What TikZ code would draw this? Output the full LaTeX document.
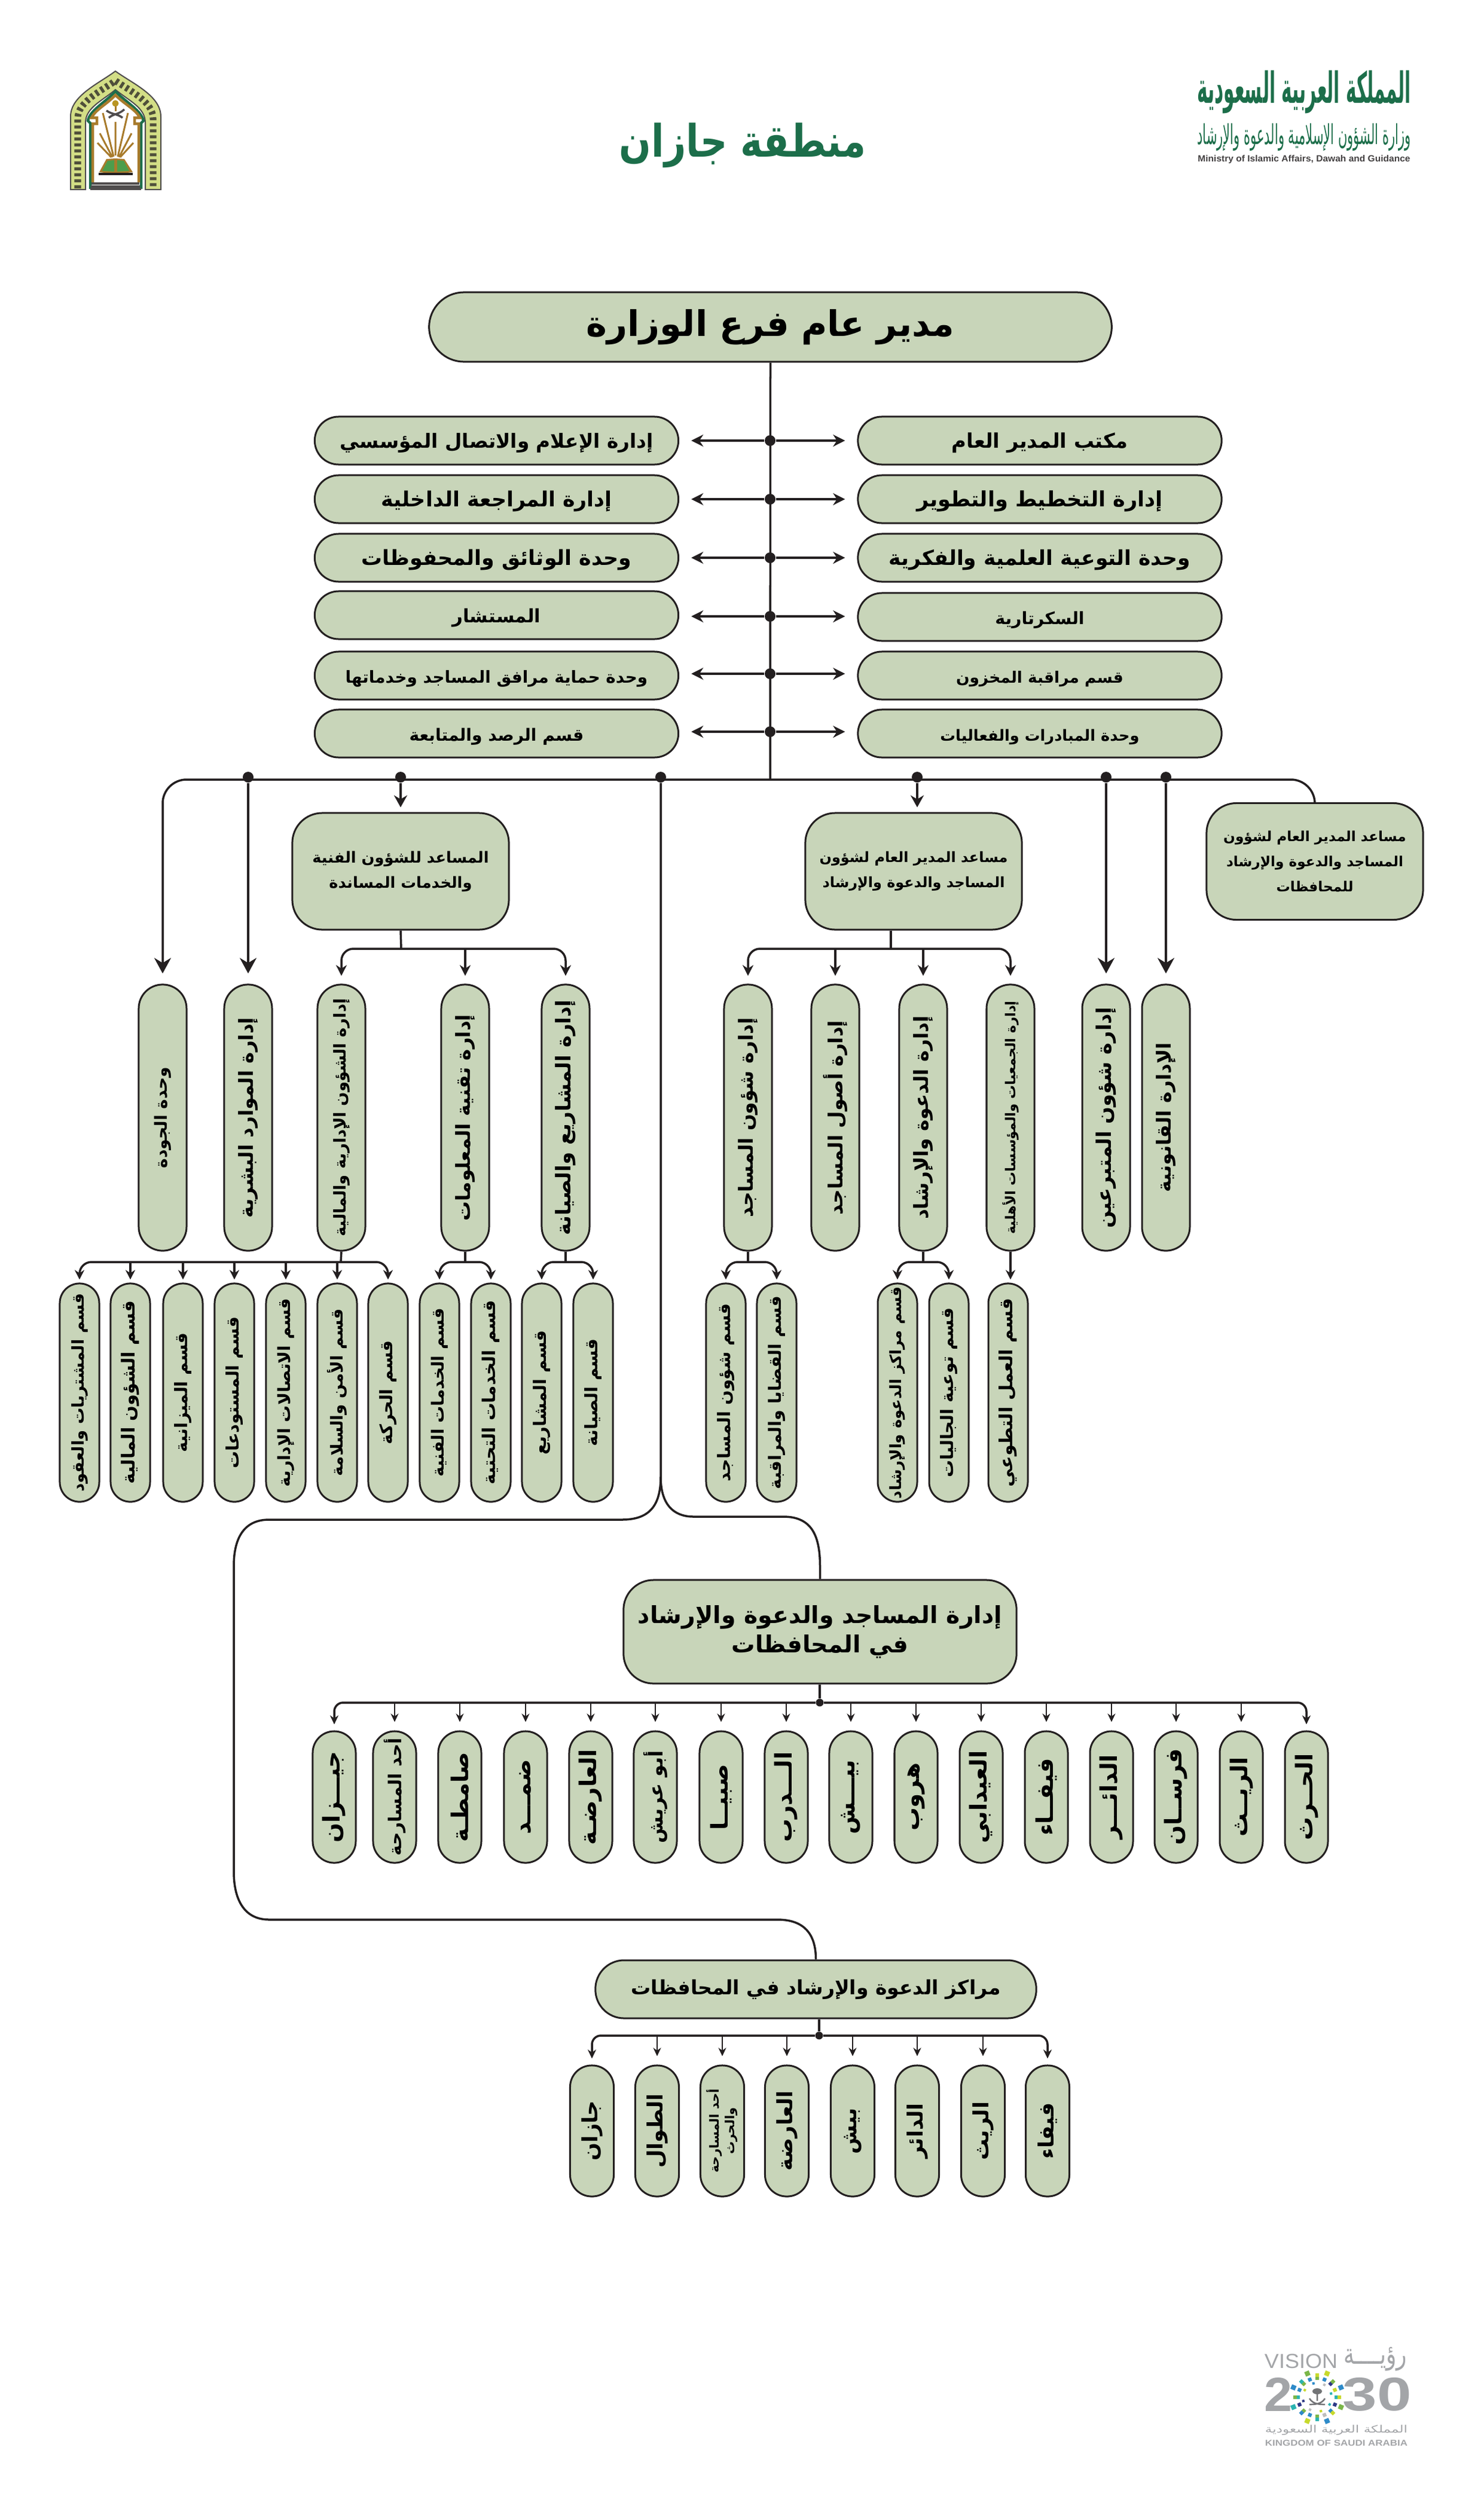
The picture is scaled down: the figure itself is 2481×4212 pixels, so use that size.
\documentclass[tikz,border=0pt]{standalone}
\usepackage{fontspec}
\usepackage{graphicx}
\usetikzlibrary{arrows.meta}
\TeXXeTstate=1
\newfontfamily\arfont[Script=Arabic]{DejaVu Sans}
\setmainfont{Liberation Sans}
\definecolor{boxfill}{HTML}{C8D5B9}
\definecolor{inkcol}{HTML}{231F20}
\definecolor{titlegreen}{HTML}{1C6E4A}
\definecolor{visiongray}{HTML}{A3A5A8}
\definecolor{archyellow}{HTML}{D3DE86}
\definecolor{archbrown}{HTML}{A87B2C}
\definecolor{vteal}{HTML}{2BB3B1}
\definecolor{vgreen}{HTML}{7AB648}
\definecolor{vnavy}{HTML}{2E3A87}
\definecolor{vblue}{HTML}{2E8BC9}
\definecolor{vlime}{HTML}{C7D92C}
\definecolor{vgray}{HTML}{BDBDBD}
\newcommand{\artxt}[1]{\beginR #1\endR}
\newcommand{\vtxt}[1]{\rotatebox{90}{\beginR #1\endR}}
\newcommand{\sized}[1]{\arfont\bfseries\fontsize{#1}{#1}\selectfont}
\tikzset{
    box/.style={draw=inkcol, fill=boxfill, line width=.3mm, inner sep=0pt, align=center, text=black},
    topbox/.style={box, minimum width=114.1mm, minimum height=11.6mm, rounded corners=5.8mm, font=\arfont\bfseries\fontsize{16.8}{21}\selectfont},
    rowbox/.style={box, minimum width=60.8mm, minimum height=8mm, rounded corners=4mm, text height=.9em, text depth=.2em, font=\sized{#1}},
    rowbox/.default=9.5,
    headbox/.style={box, minimum width=36.2mm, minimum height=19.5mm, rounded corners=5mm, font=\arfont\bfseries\fontsize{#1}{12}\selectfont},
    headbox/.default=7,
    tallbox/.style={box, minimum width=8mm, minimum height=44.5mm, rounded corners=4mm, font=\sized{#1}},
    tallbox/.default=9.3,
    smallbox/.style={box, minimum width=6.6mm, minimum height=36.5mm, rounded corners=3.3mm, font=\sized{#1}},
    smallbox/.default=8.2,
    govbox/.style={box, minimum width=7.2mm, minimum height=22mm, rounded corners=3.6mm, font=\sized{#1}},
    govbox/.default=11,
    centbox/.style={box, minimum width=7.3mm, minimum height=21.9mm, rounded corners=3.6mm, font=\sized{#1}},
    centbox/.default=10,
    dot/.style={circle, fill=inkcol, inner sep=0pt, minimum size=1.8mm},
    raised/.style={yshift=.4mm},
    logotext/.style={inner sep=0pt, text=#1},
    line/.style={draw=inkcol, line width=.35mm},
    bar/.style={line, rounded corners=4mm},
    sidearrow/.style={line, -{Stealth[length=2mm,width=2mm]}, shorten >=2mm},
    bigarrow/.style={line, -{Stealth[length=2.6mm,width=2.8mm]}, shorten >=1.7mm},
    midarrow/.style={line, -{Stealth[length=2mm,width=2.2mm]}, shorten >=.8mm},
    brancharrow/.style={line, rounded corners=2mm, -{Stealth[length=1.8mm,width=1.8mm]}, shorten >=1.3mm},
    subarrow/.style={line, rounded corners=2mm, -{Stealth[length=1.6mm,width=1.6mm]}, shorten >=.5mm},
    thinarrow/.style={draw=inkcol, line width=.25mm, -{Stealth[length=1.4mm,width=1.3mm]}, shorten >=1.4mm},
    endarrow/.style={draw=inkcol, line width=.35mm, rounded corners=1.5mm, -{Stealth[length=1.5mm,width=1.4mm]}, shorten >=1mm},
}
\begin{document}
\begin{tikzpicture}[x=0.01cm,y=-0.01cm]
    \useasboundingbox (0,0) rectangle (2481,4212);

    % ~~~~ Header ~~~~ %
    \node[logotext=titlegreen, font=\arfont\bfseries] (title) at (1242,243) {\resizebox*{41.2mm}{7.5mm}{\artxt{منطقة جازان}}};

    % ~~~~ Ministry logo ~~~~ %
    \node[logotext=titlegreen, font=\arfont\bfseries] (kingdom) at (2181,154) {\resizebox*{35.7mm}{7.2mm}{\artxt{المملكة العربية السعودية}}};
    \node[logotext=titlegreen, font=\arfont] (ministry) at (2181,230) {\resizebox*{35.7mm}{4.6mm}{\artxt{وزارة الشؤون الإسلامية والدعوة والإرشاد}}};
    \node[logotext=inkcol!85, font=\bfseries] (ministryen) at (2181,267) {\resizebox*{35.5mm}{1.4mm}{Ministry of Islamic Affairs, Dawah and Guidance}};

    % ~~~~ Emblem ~~~~ %
    \draw[draw=inkcol!80, fill=archyellow, line width=.2mm] (118,317) -- (118,195) .. controls (118,160) and (165,140) .. (193,119) .. controls (222,140) and (269,160) .. (269,195) -- (269,317) -- (243,317) -- (243,205) .. controls (243,180) and (215,168) .. (193,150) .. controls (172,168) and (143,180) .. (143,205) -- (143,317) -- cycle;
    \draw[draw=inkcol!75!archyellow, line width=1.1mm, dash pattern=on .5mm off .5mm] (130,315) -- (130,198) .. controls (130,170) and (170,152) .. (193,135) .. controls (217,152) and (256,170) .. (256,198) -- (256,315);
    \draw[draw=titlegreen, line width=.45mm] (151,316) -- (151,206) -- (147,202) .. controls (150,185) and (175,172) .. (193,153) .. controls (212,172) and (236,185) .. (240,202) -- (236,206) -- (236,316);
    \draw[draw=archbrown, line width=.45mm] (155,305) -- (155,207) -- (162,207) -- (162,197) -- (153,197) .. controls (160,183) and (178,175) .. (193,159) .. controls (209,175) and (227,183) .. (234,197) -- (225,197) -- (225,207) -- (232,207) -- (232,305);
    \draw[draw=archbrown, line width=.3mm] (190,262) -- (172,189) (188,263) -- (167,223) (186,263) -- (163,239) (193,260) -- (193,204) (197,262) -- (214,189) (199,263) -- (220,223) (201,263) -- (223,239);
    \fill[archbrown!80!yellow] (193,173) circle (5.5);
    \draw[draw=archbrown, line width=.3mm] (193,178) -- (193,186);
    \draw[draw=inkcol!80, line width=.35mm] (178,185) .. controls (188,192) and (196,190) .. (205,197) (208,183) .. controls (198,192) and (190,190) .. (182,197);
    \fill[archbrown] (166,288) -- (178,266) -- (193,265) -- (208,266) -- (222,288) -- (193,291) -- cycle;
    \fill[green!45!black!70] (171,286) -- (180,269) -- (191,268) -- (191,287) -- cycle (196,287) -- (196,268) -- (207,269) -- (216,286) -- cycle;
    \fill[inkcol] (165,289) rectangle (222,293);
    \draw[draw=inkcol!80, line width=.35mm] (153,307) -- (233,307) (152,312) -- (234,312) (151,316) -- (236,316);

    % ~~~~ Vision logo ~~~~ %
    \node[logotext=visiongray] (visionen) at (2176,3950) {\resizebox*{12.2mm}{2.4mm}{VISION}};
    \node[logotext=visiongray, font=\arfont] (visionar) at (2300,3946) {\resizebox*{10.6mm}{4mm}{\artxt{رؤيــــة}}};
    \node[logotext=visiongray, font=\bfseries] (vtwo) at (2138,4005) {\resizebox*{4.7mm}{5.6mm}{2}};
    \node[logotext=visiongray, font=\bfseries] (vthirty) at (2303,4005) {\resizebox*{11.5mm}{5.6mm}{30}};
    \foreach \a/\c in {0/vteal,22.5/vlime,45/vnavy,67.5/vblue,90/vgreen,112.5/vblue,135/vgreen,157.5/vblue,180/vteal,202.5/vnavy,225/vgreen,247.5/vblue,270/vgreen,292.5/vgray,315/vblue,337.5/vnavy}
        \fill[\c, rotate around={\a:(2203,4010)}] (2203+32,4010) ++(-3,-3) rectangle ++(6,6);
    \foreach \a/\c in {22.5/vblue,67.5/vlime,112.5/vgreen,157.5/vblue,202.5/vteal,247.5/vlime,292.5/vblue,337.5/vgreen}
        \fill[\c, rotate around={\a:(2203,4010)}] (2203+43,4010) ++(-4,-4) rectangle ++(8,8);
    \foreach \a/\c in {0/vlime,45/vgreen,90/vlime,135/vteal,180/vgreen,225/vblue,270/vteal,315/vlime}
        \fill[\c, rotate around={\a:(2203,4010)}] (2203+37,4010) ++(-3,-3) rectangle ++(6,6);
    \foreach \a/\c in {15/vteal,60/vgray,105/vblue,150/vlime,195/vnavy,240/vgray,285/vlime,330/vteal}
        \fill[\c, rotate around={\a:(2203,4010)}] (2203+24,4010) ++(-2,-2) rectangle ++(4,4);
    \fill[visiongray!70!black] (2203,4000) ellipse (8 and 5);
    \draw[draw=visiongray!70!black, line width=.25mm] (2203,4002) -- (2203,4016) (2190,4012) .. controls (2196,4022) and (2208,4022) .. (2216,4022) (2216,4012) .. controls (2210,4022) and (2198,4022) .. (2190,4022);
    \node[logotext=visiongray, font=\arfont] (visionksa) at (2235,4065) {\resizebox*{23.8mm}{1.7mm}{\artxt{المملكة العربية السعودية}}};
    \node[logotext=visiongray, font=\bfseries] (visionksaen) at (2235,4087) {\resizebox*{23.8mm}{1mm}{KINGDOM OF SAUDI ARABIA}};

    % ~~~~ Director and trunk ~~~~ %
    \node[topbox] (director) at (1288.5,547) {\artxt{مدير عام فرع الوزارة}};
    \coordinate (mainj) at (1288,1304);
    \draw[line] (director.south) -- (mainj);

    % ~~~~ Side units ~~~~ %
    \node[rowbox=9.6] (R1) at (1739,737) {\artxt{مكتب المدير العام}};
    \node[rowbox=10] (R2) at (1739,835) {\artxt{إدارة التخطيط والتطوير}};
    \node[rowbox=9.8] (R3) at (1739,933) {\artxt{وحدة التوعية العلمية والفكرية}};
    \node[rowbox=8.1] (R4) at (1739,1032) {\artxt{السكرتارية}};
    \node[rowbox=7.5] (R5) at (1739,1130) {\artxt{قسم مراقبة المخزون}};
    \node[rowbox=7.3] (R6) at (1739,1227) {\artxt{وحدة المبادرات والفعاليات}};
    \node[rowbox=9.3] (L1) at (830.5,737) {\artxt{إدارة الإعلام والاتصال المؤسسي}};
    \node[rowbox=9.9] (L2) at (830.5,835) {\artxt{إدارة المراجعة الداخلية}};
    \node[rowbox=9.9] (L3) at (830.5,933) {\artxt{وحدة الوثائق والمحفوظات}};
    \node[rowbox=8.8] (L4) at (830.5,1029) {\artxt{المستشار}};
    \node[rowbox=7.9] (L5) at (830.5,1130) {\artxt{وحدة حماية مرافق المساجد وخدماتها}};
    \node[rowbox=8] (L6) at (830.5,1227) {\artxt{قسم الرصد والمتابعة}};
    \node[dot] (d1) at (1288,737) {};
    \node[dot] (d2) at (1288,835) {};
    \node[dot] (d3) at (1288,933) {};
    \node[dot] (d4) at (1288,1031) {};
    \node[dot] (d5) at (1288,1127) {};
    \node[dot] (d6) at (1288,1224) {};
    \draw[sidearrow] (d1) -- (R1.west |- d1);
    \draw[sidearrow] (d2) -- (R2.west |- d2);
    \draw[sidearrow] (d3) -- (R3.west |- d3);
    \draw[sidearrow] (d4) -- (R4.west |- d4);
    \draw[sidearrow] (d5) -- (R5.west |- d5);
    \draw[sidearrow] (d6) -- (R6.west |- d6);
    \draw[sidearrow] (d1) -- (L1.east |- d1);
    \draw[sidearrow] (d2) -- (L2.east |- d2);
    \draw[sidearrow] (d3) -- (L3.east |- d3);
    \draw[sidearrow] (d4) -- (L4.east |- d4);
    \draw[sidearrow] (d5) -- (L5.east |- d5);
    \draw[sidearrow] (d6) -- (L6.east |- d6);

    % ~~~~ Assistants ~~~~ %
    \node[headbox=7.3] (techhead) at (670,1457.5) {\artxt{المساعد للشؤون الفنية}\\\artxt{والخدمات المساندة}};
    \node[headbox=6.8] (mosquehead) at (1528,1457.5) {\artxt{مساعد المدير العام لشؤون}\\\artxt{المساجد والدعوة والإرشاد}};
    \node[headbox=6.6] (farhead) at (2199,1441) {\artxt{مساعد المدير العام لشؤون}\\\artxt{المساجد والدعوة والإرشاد}\\\artxt{للمحافظات}};

    % ~~~~ Second level ~~~~ %
    \node[tallbox=8] (quality) at (272,1869.5) {\vtxt{وحدة الجودة}};
    \node[tallbox] (hr) at (415,1869.5) {\vtxt{إدارة الموارد البشرية}};
    \node[tallbox=7.8] (admin) at (571,1869.5) {\vtxt{إدارة الشؤون الإدارية والمالية}};
    \node[tallbox] (it) at (778,1869.5) {\vtxt{إدارة تقنية المعلومات}};
    \node[tallbox=9.7] (proj) at (946,1869.5) {\vtxt{إدارة المشاريع والصيانة}};
    \node[tallbox] (affairs) at (1251,1869.5) {\vtxt{إدارة شؤون المساجد}};
    \node[tallbox] (assets) at (1397,1869.5) {\vtxt{إدارة أصول المساجد}};
    \node[tallbox] (dawah) at (1544,1869.5) {\vtxt{إدارة الدعوة والإرشاد}};
    \node[tallbox=6.5] (assoc) at (1690,1869.5) {\vtxt{إدارة الجمعيات والمؤسسات الأهلية}};
    \node[tallbox=9.6] (donors) at (1850,1869.5) {\vtxt{إدارة شؤون المتبرعين}};
    \node[tallbox] (legal) at (1950,1869.5) {\vtxt{الإدارة القانونية}};

    % ~~~~ Main bar ~~~~ %
    \draw[bigarrow, rounded corners=4mm] (mainj) -| (quality.north);
    \draw[bar] (mainj) -| (farhead.north);
    \node[dot, raised] (dhr) at (hr.north |- mainj) {};
    \node[dot, raised] (dtech) at (techhead.north |- mainj) {};
    \node[dot, raised] (dmosque) at (1534,1304) {};
    \node[dot, raised] (ddonors) at (donors.north |- mainj) {};
    \node[dot, raised] (dlegal) at (legal.north |- mainj) {};
    \node[dot, raised] (ddown) at (1105,1304) {};
    \draw[bigarrow] (dhr) -- (hr.north);
    \draw[midarrow] (dtech) -- (techhead.north);
    \draw[midarrow] (dmosque) -- (dmosque |- mosquehead.north);
    \draw[bigarrow] (ddonors) -- (donors.north);
    \draw[bigarrow] (dlegal) -- (legal.north);

    % ~~~~ Branches of the assistants ~~~~ %
    \coordinate (techj) at (671,1587);
    \draw[line] (techhead.south) -- (techj);
    \draw[brancharrow] (techj) -| (admin.north);
    \draw[brancharrow] (techj) -| (proj.north);
    \draw[brancharrow] (it.north |- techj) -- (it.north);
    \coordinate (mosquej) at (1490,1587);
    \draw[line] (mosquehead.south -| mosquej) -- (mosquej);
    \draw[brancharrow] (mosquej) -| (affairs.north);
    \draw[brancharrow] (mosquej) -| (assoc.north);
    \draw[brancharrow] (assets.north |- mosquej) -- (assets.north);
    \draw[brancharrow] (dawah.north |- mosquej) -- (dawah.north);

    % ~~~~ Sections ~~~~ %
    \node[smallbox=7.8] (s1) at (133,2329.5) {\vtxt{قسم المشتريات والعقود}};
    \node[smallbox=8.6] (s2) at (218,2329.5) {\vtxt{قسم الشؤون المالية}};
    \node[smallbox] (s3) at (306,2329.5) {\vtxt{قسم الميزانية}};
    \node[smallbox] (s4) at (392,2329.5) {\vtxt{قسم المستودعات}};
    \node[smallbox=8] (s5) at (478,2329.5) {\vtxt{قسم الاتصالات الإدارية}};
    \node[smallbox=7.9] (s6) at (564,2329.5) {\vtxt{قسم الأمن والسلامة}};
    \node[smallbox] (s7) at (649,2329.5) {\vtxt{قسم الحركة}};
    \node[smallbox=8] (s8) at (735,2329.5) {\vtxt{قسم الخدمات الفنية}};
    \node[smallbox=8.4] (s9) at (821,2329.5) {\vtxt{قسم الخدمات التحتية}};
    \node[smallbox] (s10) at (906,2329.5) {\vtxt{قسم المشاريع}};
    \node[smallbox] (s11) at (992,2329.5) {\vtxt{قسم الصيانة}};
    \node[smallbox] (s12) at (1214,2329.5) {\vtxt{قسم شؤون المساجد}};
    \node[smallbox=8.1] (s13) at (1299,2329.5) {\vtxt{قسم القضايا والمراقبة}};
    \node[smallbox=7.4] (s14) at (1501,2329.5) {\vtxt{قسم مراكز الدعوة والإرشاد}};
    \node[smallbox] (s15) at (1587,2329.5) {\vtxt{قسم توعية الجاليات}};
    \node[smallbox=8.6] (s16) at (1686,2329.5) {\vtxt{قسم العمل التطوعي}};

    \coordinate (adminj) at (570,2111);
    \draw[line] (admin.south) -- (adminj);
    \draw[subarrow] (adminj) -| (s1.north);
    \draw[subarrow] (adminj) -| (s7.north);
    \draw[subarrow] (s2.north |- adminj) -- (s2.north);
    \draw[subarrow] (s3.north |- adminj) -- (s3.north);
    \draw[subarrow] (s4.north |- adminj) -- (s4.north);
    \draw[subarrow] (s5.north |- adminj) -- (s5.north);
    \draw[subarrow] (s6.north |- adminj) -- (s6.north);
    \coordinate (itj) at (778,2111);
    \draw[line] (it.south) -- (itj);
    \draw[subarrow] (itj) -| (s8.north);
    \draw[subarrow] (itj) -| (s9.north);
    \coordinate (projj) at (946,2111);
    \draw[line] (proj.south) -- (projj);
    \draw[subarrow] (projj) -| (s10.north);
    \draw[subarrow] (projj) -| (s11.north);
    \coordinate (affairsj) at (1251,2111);
    \draw[line] (affairs.south) -- (affairsj);
    \draw[subarrow] (affairsj) -| (s12.north);
    \draw[subarrow] (affairsj) -| (s13.north);
    \coordinate (dawahj) at (1544,2111);
    \draw[line] (dawah.south) -- (dawahj);
    \draw[subarrow] (dawahj) -| (s14.north);
    \draw[subarrow] (dawahj) -| (s15.north);
    \draw[subarrow] (assoc.south) -- (assoc.south |- s16.north);

    % ~~~~ Governorates ~~~~ %
    \node[headbox, minimum width=65.7mm, minimum height=17.3mm, font=\arfont\bfseries\fontsize{11.2}{14}\selectfont] (govhead) at (1371.5,2729.5) {\artxt{إدارة المساجد والدعوة والإرشاد}\\\artxt{في المحافظات}};
    \node[topbox, minimum width=73.7mm, minimum height=9.7mm, rounded corners=4.8mm, font=\sized{9.4}] (centhead) at (1364.5,3327.5) {\artxt{مراكز الدعوة والإرشاد في المحافظات}};
    \draw[line] (ddown) -- (1105,2470) .. controls (1105,2520) and (1085,2542) .. (1040,2542) -- (450,2542) .. controls (410,2542) and (391,2570) .. (391,2620) -- (391,3130) .. controls (391,3180) and (410,3211) .. (450,3211) -- (1300,3211) .. controls (1345,3211) and (1364.5,3235) .. (centhead.north);
    \draw[line] (1105,2470) .. controls (1105,2515) and (1125,2537) .. (1160,2537) -- (1310,2537) .. controls (1355,2537) and (1371.5,2565) .. (1371.5,2620) -- (govhead.north);

    \node[govbox] (g1) at (559,3006) {\vtxt{جيـــزان}};
    \node[govbox=8.4] (g2) at (660,3006) {\vtxt{أحد المسارحة}};
    \node[govbox] (g3) at (769,3006) {\vtxt{صامطـة}};
    \node[govbox] (g4) at (879,3006) {\vtxt{ضمـــد}};
    \node[govbox] (g5) at (988,3006) {\vtxt{العارضـة}};
    \node[govbox=9.2] (g6) at (1096,3006) {\vtxt{أبو عريش}};
    \node[govbox] (g7) at (1206,3006) {\vtxt{صبيــا}};
    \node[govbox] (g8) at (1315,3006) {\vtxt{الـــدرب}};
    \node[govbox] (g9) at (1423,3006) {\vtxt{بيـــش}};
    \node[govbox] (g10) at (1532,3006) {\vtxt{هروب}};
    \node[govbox] (g11) at (1641,3006) {\vtxt{العيدابي}};
    \node[govbox] (g12) at (1750,3006) {\vtxt{فيفــاء}};
    \node[govbox] (g13) at (1859,3006) {\vtxt{الدائـــر}};
    \node[govbox] (g14) at (1967,3006) {\vtxt{فرســان}};
    \node[govbox] (g15) at (2076,3006) {\vtxt{الريــث}};
    \node[govbox] (g16) at (2185,3006) {\vtxt{الحــرث}};
    \node[dot, minimum size=1.3mm] (govj) at (1371,2848) {};
    \draw[line] (govhead.south -| govj) -- (govj);
    \draw[endarrow] (govj) -| (g1.north);
    \draw[endarrow] (govj) -| (g16.north);
    \draw[thinarrow] (g2.north |- govj) -- (g2.north);
    \draw[thinarrow] (g3.north |- govj) -- (g3.north);
    \draw[thinarrow] (g4.north |- govj) -- (g4.north);
    \draw[thinarrow] (g5.north |- govj) -- (g5.north);
    \draw[thinarrow] (g6.north |- govj) -- (g6.north);
    \draw[thinarrow] (g7.north |- govj) -- (g7.north);
    \draw[thinarrow] (g8.north |- govj) -- (g8.north);
    \draw[thinarrow] (g9.north |- govj) -- (g9.north);
    \draw[thinarrow] (g10.north |- govj) -- (g10.north);
    \draw[thinarrow] (g11.north |- govj) -- (g11.north);
    \draw[thinarrow] (g12.north |- govj) -- (g12.north);
    \draw[thinarrow] (g13.north |- govj) -- (g13.north);
    \draw[thinarrow] (g14.north |- govj) -- (g14.north);
    \draw[thinarrow] (g15.north |- govj) -- (g15.north);

    % ~~~~ Centres ~~~~ %
    \node[centbox] (c1) at (990,3564.5) {\vtxt{جازان}};
    \node[centbox] (c2) at (1099,3564.5) {\vtxt{الطوال}};
    \node[centbox=6] (c3) at (1208,3564.5) {\rotatebox{90}{\begin{tabular}{@{}c@{}}\artxt{أحد المسارحة}\\[1pt]\artxt{والحرث}\end{tabular}}};
    \node[centbox] (c4) at (1316,3564.5) {\vtxt{العارضة}};
    \node[centbox] (c5) at (1426,3564.5) {\vtxt{بيش}};
    \node[centbox] (c6) at (1534,3564.5) {\vtxt{الدائر}};
    \node[centbox] (c7) at (1644,3564.5) {\vtxt{الريث}};
    \node[centbox] (c8) at (1752,3564.5) {\vtxt{فيفاء}};
    \node[dot, minimum size=1.3mm] (centj) at (1370,3405) {};
    \draw[line] (centhead.south -| centj) -- (centj);
    \draw[endarrow] (centj) -| (c1.north);
    \draw[endarrow] (centj) -| (c8.north);
    \draw[thinarrow] (c2.north |- centj) -- (c2.north);
    \draw[thinarrow] (c3.north |- centj) -- (c3.north);
    \draw[thinarrow] (c4.north |- centj) -- (c4.north);
    \draw[thinarrow] (c5.north |- centj) -- (c5.north);
    \draw[thinarrow] (c6.north |- centj) -- (c6.north);
    \draw[thinarrow] (c7.north |- centj) -- (c7.north);
\end{tikzpicture}
\end{document}
